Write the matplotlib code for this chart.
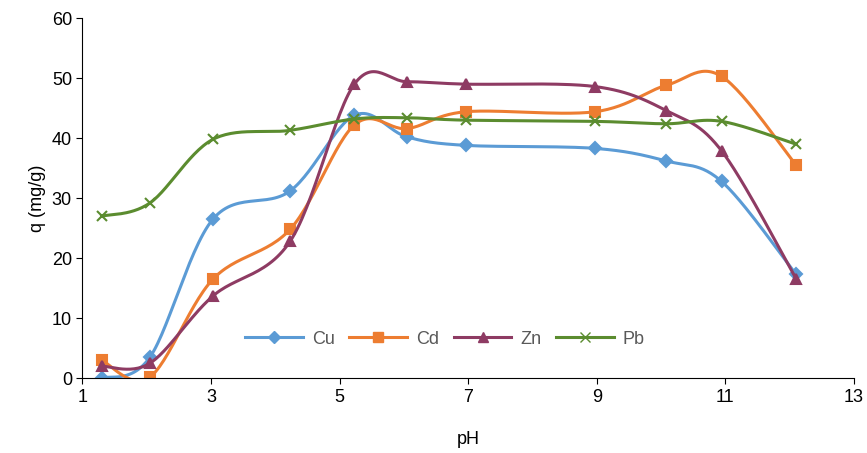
import numpy as np
import matplotlib
matplotlib.use('Agg')
import matplotlib.pyplot as plt

plt.rcParams['font.family'] = ['Liberation Sans', 'DejaVu Sans']

ph = [1.3, 2.05, 3.03, 4.23, 5.23, 6.05, 6.96, 8.97, 10.08, 10.94, 12.1]
cu = [0, 3.5, 26.5, 31.2, 43.8, 40.2, 38.8, 38.3, 36.2, 32.8, 17.3]
cd = [3, 0.2, 16.5, 24.8, 42.2, 41.6, 44.4, 44.4, 48.8, 50.3, 35.5]
zn = [2, 2.5, 13.7, 22.8, 49, 49.4, 49, 48.6, 44.6, 37.9, 16.6]
pb = [27, 29.2, 39.8, 41.3, 43.2, 43.4, 43, 42.8, 42.4, 42.8, 39]


def smooth(x, y, n=30):
    # Catmull-Rom style curve, like Excel's smoothed lines
    p = np.column_stack([x, y])
    p = np.vstack([p[0], p, p[-1]])
    out = []
    for i in range(1, len(p) - 2):
        p0, p1, p2, p3 = p[i - 1], p[i], p[i + 1], p[i + 2]
        c1 = p1 + (p2 - p0) / 6
        c2 = p2 - (p3 - p1) / 6
        t = np.linspace(0, 1, n)[:, None]
        seg = (1 - t) ** 3 * p1 + 3 * (1 - t) ** 2 * t * c1 + 3 * (1 - t) * t ** 2 * c2 + t ** 3 * p2
        out.append(seg)
    out = np.vstack(out)
    return out[:, 0], out[:, 1]


fig, ax = plt.subplots(figsize=(8.67, 4.53), dpi=100)
series = [('Cu', cu, '#5B9BD5', 'D', 6),
          ('Cd', cd, '#ED7D31', 's', 7),
          ('Zn', zn, '#8E3B63', '^', 7),
          ('Pb', pb, '#5B8C2F', 'x', 7)]
for name, y, col, m, ms in series:
    sx, sy = smooth(ph, y)
    ax.plot(sx, sy, color=col, lw=2.2)
    ax.plot(ph, y, ls='none', marker=m, color=col, ms=ms, mew=1.5)
    ax.plot([], [], color=col, lw=2.2, marker=m, ms=ms, label=name)

ax.set_xlim(1, 13)
ax.set_ylim(0, 60)
ax.set_xticks([1, 3, 5, 7, 9, 11, 13])
ax.set_yticks(range(0, 61, 10))
ax.set_xlabel('pH', fontsize=13, labelpad=18)
ax.set_ylabel('q (mg/g)', fontsize=13)
ax.tick_params(labelsize=13, length=4)
for s in ['top', 'right']:
    ax.spines[s].set_visible(False)
ax.legend(loc='lower center', bbox_to_anchor=(0.47, 0.04), ncol=4, frameon=False,
          fontsize=13, labelcolor='#595959', handlelength=3.2, handletextpad=0.5,
          columnspacing=0.8)
fig.subplots_adjust(left=0.095, right=0.985, top=0.96, bottom=0.165)
fig.savefig('out.png')
